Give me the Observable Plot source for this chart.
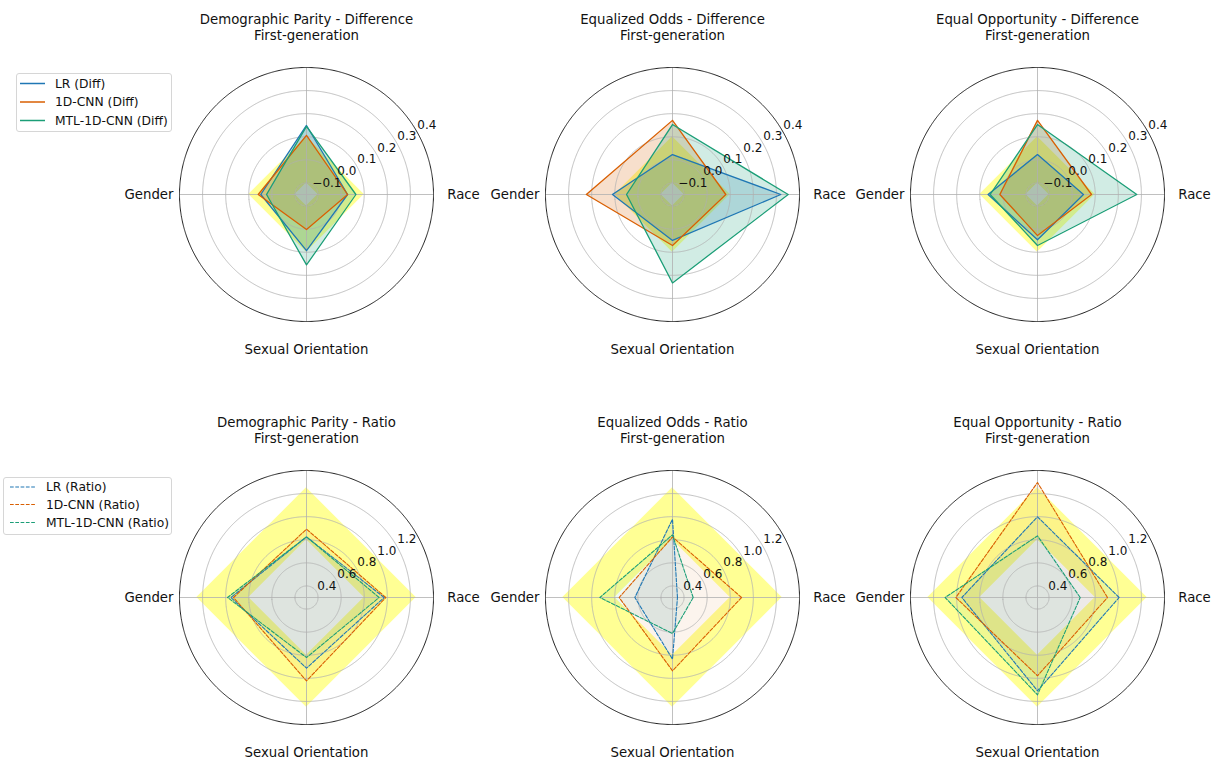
<!DOCTYPE html>
<html><head><meta charset="utf-8">
<script src="https://cdn.jsdelivr.net/npm/d3@7"></script>
<script src="https://cdn.jsdelivr.net/npm/@observablehq/plot@0.6"></script>
<style>
html,body{margin:0;padding:0;background:#fff;}
#root{position:relative;width:1211px;height:760px;overflow:hidden;font-family:"DejaVu Sans",sans-serif;}
.panel{position:absolute;width:366px;height:400px;}
.legend{position:absolute;background:rgba(255,255,255,0.8);border:1px solid #d6d6d6;border-radius:3px;box-sizing:border-box;}
</style></head>
<body><div id="root"></div>
<script>
// ---------------- data ----------------
const categories = ["Race", "First-generation", "Gender", "Sexual Orientation"];
const models = ["LR", "1D-CNN", "MTL-1D-CNN"];
const modelColors = ["#1f77b4", "#d95f02", "#1b9e77"];

// values per model, in category order [Race, First-generation, Gender, Sexual Orientation]
const demographicParityDiff = [
  [0.028, 0.149, 0.048, 0.093],
  [0.028, 0.106, 0.059, 0.002],
  [0.064, 0.145, 0.023, 0.155]
];
const equalizedOddsDiff = [
  [0.319, 0.023, 0.110, 0.049],
  [0.081, 0.171, 0.223, 0.071],
  [0.351, 0.153, 0.049, 0.233]
];
const equalOpportunityDiff = [
  [0.049, 0.023, 0.064, 0.046],
  [0.084, 0.171, 0.013, 0.028],
  [0.280, 0.153, 0.055, 0.071]
];
const demographicParityRatio = [
  [0.973, 0.825, 0.955, 0.912],
  [0.987, 0.892, 0.932, 1.022],
  [0.929, 0.825, 0.984, 0.820]
];
const equalizedOddsRatio = [
  [0.343, 0.978, 0.626, 0.834],
  [0.898, 0.825, 0.762, 0.935],
  [0.479, 0.843, 0.929, 0.612]
];
const equalOpportunityRatio = [
  [1.007, 0.999, 0.955, 1.108],
  [0.906, 1.296, 1.007, 0.978],
  [0.670, 0.834, 1.100, 1.143]
];

const diffTicks = [-0.1, 0.0, 0.1, 0.2, 0.3, 0.4];
const ratioTicks = [0.4, 0.6, 0.8, 1.0, 1.2];
const diffDomain = [-0.15, 0.4];
const ratioDomain = [0.3, 1.4];
const diffBand = [-0.1, 0.1];
const ratioBand = [0.8, 1.25];

const titles = [
  "Demographic Parity - Difference", "Equalized Odds - Difference", "Equal Opportunity - Difference",
  "Demographic Parity - Ratio", "Equalized Odds - Ratio", "Equal Opportunity - Ratio"
];
const panelValues = [
  demographicParityDiff, equalizedOddsDiff, equalOpportunityDiff,
  demographicParityRatio, equalizedOddsRatio, equalOpportunityRatio
];

// ---------------- layout ----------------
const colCenters = [305.7, 671.7, 1036.7];
const rowCenters = [194, 596.7];
const RADIUS_PX = 127;
const LABEL_PAD = [30, 32, 30.5, 28]; // px beyond the outer circle, per category direction
const PW = 366, PH = 400;

const root = document.getElementById("root");
const fmt = v => v.toFixed(1).replace("-", "\u2212");

function radar(idx) {
  const isRatio = idx >= 3;
  const values = panelValues[idx];
  const [vmin, vmax] = isRatio ? ratioDomain : diffDomain;
  const ticks = isRatio ? ratioTicks : diffTicks;
  const [bandLo, bandHi] = isRatio ? ratioBand : diffBand;
  const R = 10; // degrees of arc for the full radius
  const rdeg = v => (v - vmin) / (vmax - vmin) * R;
  const lat = v => 90 - rdeg(v);
  const lon = i => 90 + 90 * i;
  const pxDeg = px => px / RADIUS_PX * R;
  const circle = r => d3.geoCircle().center([0, 90]).radius(r).precision(0.5)();

  const rows = models.flatMap((m, j) => categories.map((c, i) => ({model: m, i, value: values[j][i]})));
  const band = v => categories.map((c, i) => ({i, value: v}));
  const gridTicks = ticks.filter(t => t < vmax - 1e-9);

  const plot = Plot.plot({
    width: PW, height: PH,
    marginLeft: (PW - 2 * RADIUS_PX) / 2, marginRight: (PW - 2 * RADIUS_PX) / 2,
    marginTop: (PH - 2 * RADIUS_PX) / 2, marginBottom: (PH - 2 * RADIUS_PX) / 2,
    projection: {type: "azimuthal-equidistant", rotate: [0, -90], domain: circle(R), clip: false},
    color: {domain: models, range: modelColors},
    style: {background: "transparent", overflow: "visible", fontFamily: "DejaVu Sans, sans-serif", color: "black"},
    marks: [
      Plot.area(band(bandHi), {x1: d => lon(d.i), y1: d => lat(d.value), x2: d => lon(d.i), y2: 90,
        fill: "yellow", fillOpacity: 0.42, curve: "linear-closed"}),
      Plot.area(band(bandLo), {x1: d => lon(d.i), y1: d => lat(d.value), x2: d => lon(d.i), y2: 90,
        fill: "white", curve: "linear-closed"}),
      Plot.area(rows, {x1: d => lon(d.i), y1: d => lat(d.value), x2: d => lon(d.i), y2: 90,
        z: "model", fill: "model", fillOpacity: isRatio ? 0.07 : 0.2, curve: "linear-closed"}),
      Plot.geo(gridTicks, {geometry: t => circle(rdeg(t)), fill: "none", stroke: "#b0b0b0", strokeWidth: 0.8}),
      Plot.link(categories, {x1: (c, i) => lon(i), y1: 90, x2: (c, i) => lon(i), y2: 90 - R,
        stroke: "#b0b0b0", strokeWidth: 0.8}),
      Plot.geo([vmax], {geometry: t => circle(rdeg(t)), fill: "none", stroke: "#222", strokeWidth: 1}),
      Plot.line(rows, {x: d => lon(d.i), y: d => lat(d.value), z: "model", stroke: "model",
        strokeWidth: isRatio ? 1.1 : 1.3, strokeDasharray: isRatio ? "3.7,1.6" : null, curve: "linear-closed"}),
      Plot.text(ticks, {x: 120, y: t => lat(t) - pxDeg(12), text: fmt, fontSize: 12, fill: "#111"}),
      Plot.text(categories, {x: (c, i) => lon(i), y: (c, i) => 90 - pxDeg(RADIUS_PX + LABEL_PAD[i]),
        text: c => c, fontSize: 13.3, fill: "#111"}),
      Plot.text([titles[idx]], {frameAnchor: "top", lineAnchor: "middle", dy: -48, text: d => d, fontSize: 13.3, fill: "#111"})
    ]
  });
  const div = document.createElement("div");
  div.className = "panel";
  const cx = colCenters[idx % 3], cy = rowCenters[Math.floor(idx / 3)];
  div.style.left = (cx - PW / 2) + "px";
  div.style.top = (cy - PH / 2) + "px";
  div.appendChild(plot);
  root.appendChild(div);
}

for (let k = 0; k < 6; k++) radar(k);

// ---------------- legends ----------------
function legend(left, top, width, height, lineX0, lineX1, textX, rowY, suffix, dashed) {
  const div = document.createElement("div");
  div.className = "legend";
  Object.assign(div.style, {left: left + "px", top: top + "px", width: width + "px", height: height + "px"});
  const ns = "http://www.w3.org/2000/svg";
  const svg = document.createElementNS(ns, "svg");
  svg.setAttribute("width", width); svg.setAttribute("height", height);
  svg.style.position = "absolute"; svg.style.left = "-1px"; svg.style.top = "-1px";
  models.forEach((m, j) => {
    const ln = document.createElementNS(ns, "line");
    ln.setAttribute("x1", lineX0); ln.setAttribute("x2", lineX1);
    ln.setAttribute("y1", rowY[j]); ln.setAttribute("y2", rowY[j]);
    ln.setAttribute("stroke", modelColors[j]);
    ln.setAttribute("stroke-width", dashed ? 1.1 : 1.5);
    if (dashed) ln.setAttribute("stroke-dasharray", "3.7,1.6");
    svg.appendChild(ln);
    const tx = document.createElementNS(ns, "text");
    tx.setAttribute("x", textX); tx.setAttribute("y", rowY[j]);
    tx.setAttribute("dy", "0.35em");
    tx.setAttribute("font-size", "12.3");
    tx.setAttribute("font-family", "DejaVu Sans, sans-serif");
    tx.setAttribute("fill", "#111");
    tx.textContent = `${m} (${suffix})`;
    svg.appendChild(tx);
  });
  div.appendChild(svg);
  root.appendChild(div);
}
legend(16, 73, 156, 59, 4, 29, 39, [10.5, 29, 47.5], "Diff", false);
legend(3, 477, 169, 58, 7, 32, 43, [10, 27.5, 45.5], "Ratio", true);
</script>
</body></html>
